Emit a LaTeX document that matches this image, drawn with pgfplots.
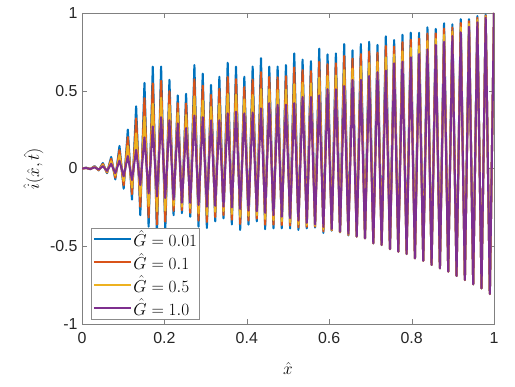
\documentclass[border=0pt]{standalone}
\usepackage[no-math]{fontspec}
\usepackage{pgfplots}
\usepackage{pgfplotstable}
\pgfplotsset{compat=1.18}
\newfontfamily\ticksfont{Liberation Sans}
\definecolor{mblue}{rgb}{0,0.447,0.741}
\definecolor{mred}{rgb}{0.85,0.325,0.098}
\definecolor{myellow}{rgb}{0.929,0.694,0.125}
\definecolor{mpurple}{rgb}{0.494,0.184,0.556}

% peaks and troughs of i(x,t): x, G=0.01, G=0.1, G=0.5, G=1.0
\pgfplotstableread{
x gA gB gC gD
0.0000 0 0 0 0
0.0102 0.005 0.004 0.004 0.003
0.0203 -0.004 -0.004 -0.003 -0.003
0.0304 0.015 0.013 0.011 0.008
0.0405 -0.012 -0.011 -0.009 -0.007
0.0506 0.035 0.029 0.023 0.015
0.0607 -0.030 -0.026 -0.021 -0.015
0.0708 0.074 0.062 0.047 0.030
0.0809 -0.070 -0.059 -0.045 -0.030
0.0910 0.145 0.118 0.086 0.050
0.1011 -0.130 -0.108 -0.080 -0.050
0.1112 0.250 0.202 0.145 0.080
0.1213 -0.200 -0.165 -0.122 -0.074
0.1314 0.400 0.322 0.226 0.120
0.1415 -0.300 -0.246 -0.180 -0.106
0.1516 0.550 0.452 0.333 0.200
0.1617 -0.374 -0.314 -0.241 -0.160
0.1718 0.655 0.547 0.416 0.270
0.1819 -0.430 -0.360 -0.275 -0.180
0.1920 0.655 0.564 0.454 0.330
0.2021 -0.400 -0.341 -0.270 -0.190
0.2122 0.570 0.497 0.409 0.310
0.2223 -0.300 -0.272 -0.238 -0.200
0.2324 0.470 0.420 0.358 0.290
0.2425 -0.287 -0.268 -0.245 -0.220
0.2526 0.480 0.418 0.344 0.260
0.2627 -0.310 -0.285 -0.254 -0.220
0.2728 0.665 0.574 0.464 0.340
0.2829 -0.374 -0.335 -0.288 -0.235
0.2930 0.610 0.532 0.436 0.330
0.3031 -0.383 -0.344 -0.297 -0.245
0.3132 0.537 0.473 0.396 0.310
0.3233 -0.340 -0.312 -0.278 -0.240
0.3334 0.590 0.512 0.416 0.310
0.3435 -0.320 -0.299 -0.274 -0.245
0.3536 0.680 0.589 0.479 0.355
0.3637 -0.360 -0.329 -0.292 -0.250
0.3738 0.655 0.574 0.475 0.365
0.3839 -0.395 -0.357 -0.311 -0.260
0.3940 0.590 0.524 0.444 0.355
0.4041 -0.360 -0.335 -0.304 -0.270
0.4142 0.655 0.572 0.472 0.360
0.4243 -0.340 -0.322 -0.300 -0.275
0.4344 0.710 0.620 0.510 0.387
0.4445 -0.390 -0.361 -0.325 -0.285
0.4546 0.655 0.589 0.509 0.420
0.4647 -0.385 -0.361 -0.332 -0.300
0.4748 0.655 0.586 0.503 0.410
0.4849 -0.385 -0.364 -0.339 -0.310
0.4950 0.665 0.594 0.507 0.410
0.5051 -0.385 -0.367 -0.345 -0.320
0.5152 0.740 0.650 0.542 0.420
0.5253 -0.395 -0.378 -0.358 -0.335
0.5354 0.700 0.633 0.551 0.460
0.5455 -0.385 -0.375 -0.363 -0.350
0.5556 0.690 0.626 0.547 0.460
0.5657 -0.380 -0.374 -0.368 -0.360
0.5758 0.770 0.686 0.584 0.470
0.5859 -0.415 -0.404 -0.390 -0.375
0.5960 0.734 0.671 0.595 0.510
0.6061 -0.400 -0.397 -0.394 -0.390
0.6162 0.740 0.676 0.597 0.510
0.6263 -0.410 -0.409 -0.407 -0.405
0.6364 0.800 0.724 0.633 0.530
0.6465 -0.430 -0.427 -0.424 -0.420
0.6566 0.760 0.707 0.642 0.570
0.6667 -0.438 -0.438 -0.438 -0.438
0.6768 0.800 0.736 0.657 0.570
0.6869 -0.449 -0.449 -0.449 -0.449
0.6970 0.815 0.753 0.679 0.595
0.7071 -0.481 -0.481 -0.481 -0.481
0.7172 0.794 0.745 0.686 0.620
0.7273 -0.492 -0.492 -0.492 -0.492
0.7374 0.850 0.788 0.714 0.630
0.7475 -0.518 -0.518 -0.518 -0.518
0.7576 0.826 0.784 0.733 0.676
0.7677 -0.535 -0.535 -0.535 -0.535
0.7778 0.860 0.812 0.753 0.687
0.7879 -0.550 -0.550 -0.550 -0.550
0.7980 0.873 0.829 0.775 0.715
0.8081 -0.578 -0.578 -0.578 -0.578
0.8182 0.873 0.835 0.788 0.736
0.8283 -0.593 -0.593 -0.593 -0.593
0.8384 0.908 0.868 0.820 0.766
0.8485 -0.620 -0.620 -0.620 -0.620
0.8586 0.897 0.868 0.833 0.794
0.8687 -0.642 -0.642 -0.642 -0.642
0.8788 0.934 0.900 0.860 0.815
0.8889 -0.663 -0.663 -0.663 -0.663
0.8990 0.927 0.906 0.881 0.852
0.9091 -0.691 -0.691 -0.691 -0.691
0.9192 0.960 0.936 0.908 0.876
0.9293 -0.717 -0.717 -0.717 -0.717
0.9394 0.960 0.947 0.930 0.912
0.9495 -0.745 -0.745 -0.745 -0.745
0.9596 0.980 0.969 0.955 0.940
0.9697 -0.770 -0.770 -0.770 -0.770
0.9798 0.990 0.984 0.978 0.970
0.9899 -0.807 -0.807 -0.807 -0.807
1.0000 1 1 1 1
}\wave

\begin{document}
\begin{tikzpicture}
\begin{axis}[
    scale only axis,
    width=412bp, height=311bp,
    xmin=0, xmax=1, ymin=-1, ymax=1,
    xtick={0,0.2,0.4,0.6,0.8,1},
    ytick={-1,-0.5,0,0.5,1},
    tick align=inside, tick pos=both,
    major tick length=5bp,
    axis line style={black!50},
    tick style={black!50},
    /pgf/number format/assume math mode=true,
    ticklabel style={font=\ticksfont\fontsize{16}{18}\selectfont, text=black!85},
    xticklabel style={yshift=-5bp},
    yticklabel style={xshift=-1bp},
    xlabel={$\hat{x}$},
    ylabel={$\hat{i}(\hat{x},\hat{t})$},
    label style={font=\fontsize{19}{22}\selectfont},
    xlabel style={at={(axis description cs:0.5,-0.142)}, anchor=center},
    ylabel style={at={(axis description cs:-0.118,0.5)}, anchor=center},
    legend style={at={(0.021,0.015)}, anchor=south west, draw=black!45,
        font=\fontsize{16}{18}\selectfont, inner sep=2bp,
        row sep=4bp, column sep=1bp,
        nodes={inner sep=0.5bp}, cells={anchor=west}},
    legend image code/.code={\draw[#1] (0bp,0bp) -- (37bp,0bp);},
    every axis plot/.append style={line width=2.1pt, line join=round},
]
\addplot[color=mblue] table[x=x, y=gA] {\wave};
\addlegendentry{$\hat{G}=0.01$}
\addplot[color=mred] table[x=x, y=gB] {\wave};
\addlegendentry{$\hat{G}=0.1$}
\addplot[color=myellow] table[x=x, y=gC] {\wave};
\addlegendentry{$\hat{G}=0.5$}
\addplot[color=mpurple] table[x=x, y=gD] {\wave};
\addlegendentry{$\hat{G}=1.0$}
\end{axis}
\path (current axis.south west) +(-82bp,-63bp) (current axis.north east) +(21bp,13bp);
\end{tikzpicture}
\end{document}
